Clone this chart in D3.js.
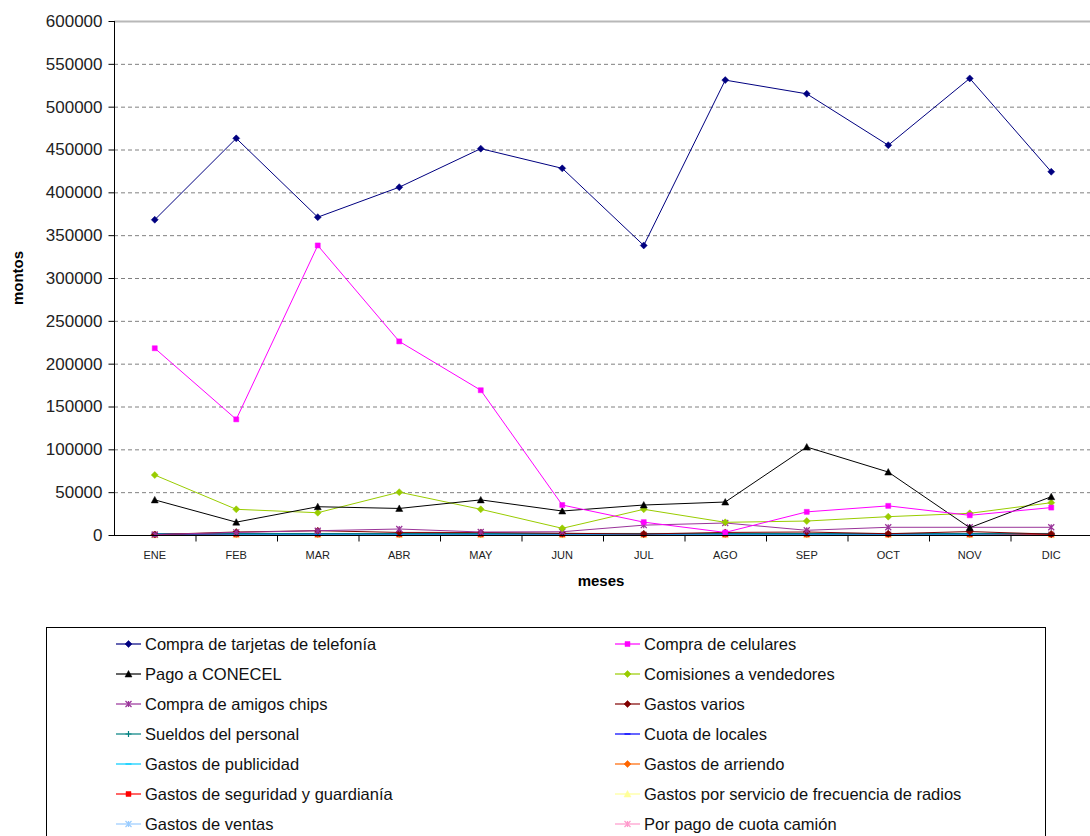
<!DOCTYPE html>
<html>
<head>
<meta charset="utf-8">
<script src="https://cdn.jsdelivr.net/npm/d3@7"></script>
<style>
  html, body { margin: 0; padding: 0; background: #fff; }
  svg { display: block; font-family: "Liberation Sans", Arial, sans-serif; }
</style>
</head>
<body>
<svg id="chart" width="1090" height="836"></svg>
<script>
// Months on the x axis
const meses = ["ENE","FEB","MAR","ABR","MAY","JUN","JUL","AGO","SEP","OCT","NOV","DIC"];
const yTicks = [0,50000,100000,150000,200000,250000,300000,350000,400000,450000,500000,550000,600000];

// Monthly amounts per expense line
const tarjetas   = [368000,463000,371000,406000,451000,428000,338000,531000,515000,455000,533000,424000];
const celulares  = [218000,135000,338000,226000,169000,35000,15000,3000,27000,34000,23000,32000];
const conecel    = [41000,15000,33000,31000,41000,28000,35000,38500,102700,73500,8500,44700];
const comisiones = [70000,30000,26000,50000,30000,7800,30000,14800,16300,21400,25300,37700];
const chips      = [500,3000,5000,7000,3500,3800,11500,14000,5500,9000,9000,9000];
const varios     = [500,3500,5000,3000,3000,2000,1200,3000,3500,1500,4000,1000];
const sueldos    = [1200,1800,1800,1800,1800,1800,1800,1800,1800,1800,1800,1800];
const locales    = [800,1500,1500,1500,1500,1500,1500,1500,1500,1500,1500,1500];
const publicidad = [1800,800,800,800,800,800,800,800,800,800,800,1800];
const arriendo   = [600,1200,1200,1200,1200,1200,1200,1200,1200,1200,1200,1200];
const seguridad  = [600,600,600,600,600,600,600,600,600,600,600,600];
const radios     = [300,300,300,300,300,300,300,300,300,300,300,300];
const ventas     = [400,400,400,400,400,400,400,400,400,400,400,400];
const camion     = [100,100,100,100,100,100,100,100,100,100,100,100];

const series = [
  { name: "Compra de tarjetas de telefonía", values: tarjetas, color: "#000080", marker: "diamond" },
  { name: "Compra de celulares", values: celulares, color: "#FF00FF", marker: "square" },
  { name: "Pago a CONECEL", values: conecel, color: "#000000", marker: "triangle" },
  { name: "Comisiones a vendedores", values: comisiones, color: "#99CC00", marker: "diamond" },
  { name: "Compra de amigos chips", values: chips, color: "#993399", marker: "star" },
  { name: "Gastos varios", values: varios, color: "#800000", marker: "diamond" },
  { name: "Sueldos del personal", values: sueldos, color: "#008080", marker: "plus" },
  { name: "Cuota de locales", values: locales, color: "#0000FF", marker: "dash" },
  { name: "Gastos de publicidad", values: publicidad, color: "#00CCFF", marker: "dash" },
  { name: "Gastos de arriendo", values: arriendo, color: "#FF6600", marker: "diamond" },
  { name: "Gastos de seguridad y guardianía", values: seguridad, color: "#FF0000", marker: "square" },
  { name: "Gastos por servicio de frecuencia de radios", values: radios, color: "#FFFF99", marker: "triangle" },
  { name: "Gastos de ventas", values: ventas, color: "#99CCFF", marker: "star" },
  { name: "Por pago de cuota camión", values: camion, color: "#FF99CC", marker: "star" }
];

const svg = d3.select("#chart");
const plotLeft = 114, plotRight = 1092, plotTop = 21, plotBottom = 535;

const xBand = d3.scaleBand().domain(meses).range([plotLeft, plotRight]);
const xc = m => xBand(m) + xBand.bandwidth() / 2;
const y = d3.scaleLinear().domain([0, 600000]).range([plotBottom, plotTop]);

// Dashed horizontal gridlines
svg.append("g")
  .selectAll("line")
  .data(yTicks.filter(v => v > 0 && v < 600000))
  .join("line")
  .attr("x1", plotLeft).attr("x2", plotRight)
  .attr("y1", d => y(d) + 0.5).attr("y2", d => y(d) + 0.5)
  .attr("stroke", "#808080").attr("stroke-width", 1)
  .attr("stroke-dasharray", "4,3");

// Top border of the plot area
svg.append("line")
  .attr("x1", plotLeft).attr("x2", plotRight)
  .attr("y1", y(600000) + 0.5).attr("y2", y(600000) + 0.5)
  .attr("stroke", "#b8b8b8").attr("stroke-width", 2);

// Marker shapes
function markerPath(type) {
  switch (type) {
    case "diamond": return "M0,-3.5L3.5,0L0,3.5L-3.5,0Z";
    case "square": return "M-2.5,-2.5H2.5V2.5H-2.5Z";
    case "triangle": return "M0,-3.5L3.5,3L-3.5,3Z";
    case "plus": return "M-3,0H3M0,-3V3";
    case "dash": return "M-3,0H3";
    case "star": return "M-3,-3L3,3M-3,3L3,-3M0,-3V3";
  }
}
const strokeOnly = t => t === "plus" || t === "dash" || t === "star";

const line = d3.line().x((d, i) => xc(meses[i])).y(d => y(d));

// Draw series from the last (smallest) to the first so main lines stay on top
const gSeries = svg.append("g");
series.slice().reverse().forEach(s => {
  const g = gSeries.append("g");
  g.append("path")
    .attr("d", line(s.values))
    .attr("fill", "none")
    .attr("stroke", s.color)
    .attr("stroke-width", 1);
  g.selectAll("path.mk")
    .data(s.values)
    .join("path")
    .attr("class", "mk")
    .attr("transform", (d, i) => `translate(${xc(meses[i])},${y(d)})`)
    .attr("d", markerPath(s.marker))
    .attr("fill", strokeOnly(s.marker) ? "none" : s.color)
    .attr("stroke", s.color)
    .attr("stroke-width", strokeOnly(s.marker) ? 1.2 : 0.5);
});

// Y axis
const yAxis = svg.append("g")
  .attr("transform", `translate(${plotLeft + 0.5},0)`)
  .call(d3.axisLeft(y).tickValues(yTicks).tickSize(6).tickPadding(6).tickFormat(d3.format("d")));
yAxis.select(".domain").attr("stroke", "#000").attr("d", `M0,${plotTop}V${plotBottom}`);
yAxis.selectAll(".tick line").attr("stroke", "#000");
yAxis.selectAll(".tick text")
  .attr("font-size", 17).attr("fill", "#222")
  .attr("font-family", "'Liberation Sans', Arial, sans-serif");

// X axis with ticks at category boundaries
const xAxis = svg.append("g").attr("transform", `translate(0,${plotBottom + 0.5})`);
xAxis.append("line").attr("x1", plotLeft).attr("x2", plotRight).attr("stroke", "#000");
xAxis.selectAll("line.tk")
  .data(meses.slice(1))
  .join("line")
  .attr("class", "tk")
  .attr("x1", d => xBand(d) + 0.5).attr("x2", d => xBand(d) + 0.5)
  .attr("y1", 0).attr("y2", 6)
  .attr("stroke", "#000");
xAxis.selectAll("text")
  .data(meses)
  .join("text")
  .attr("x", d => xc(d))
  .attr("y", 23)
  .attr("text-anchor", "middle")
  .attr("font-size", 11)
  .attr("fill", "#222")
  .text(d => d);

// Axis titles
svg.append("text")
  .attr("x", 601).attr("y", 586)
  .attr("text-anchor", "middle")
  .attr("font-size", 15).attr("font-weight", "bold")
  .text("meses");
svg.append("text")
  .attr("transform", "translate(23,278) rotate(-90)")
  .attr("text-anchor", "middle")
  .attr("font-size", 15).attr("font-weight", "bold")
  .text("montos");

// Legend
const legend = svg.append("g");
legend.append("rect")
  .attr("x", 46.5).attr("y", 627.5)
  .attr("width", 999).attr("height", 240)
  .attr("fill", "#fff").attr("stroke", "#000");

const cols = [116, 615];
series.forEach((s, i) => {
  const cx = cols[i % 2];
  const cy = 644 + 30 * Math.floor(i / 2);
  const item = legend.append("g").attr("transform", `translate(${cx},${cy})`);
  item.append("line").attr("x1", 0).attr("x2", 25).attr("stroke", s.color).attr("stroke-width", 1.2);
  item.append("path")
    .attr("transform", "translate(12.5,0)")
    .attr("d", markerPath(s.marker))
    .attr("fill", strokeOnly(s.marker) ? "none" : s.color)
    .attr("stroke", s.color)
    .attr("stroke-width", strokeOnly(s.marker) ? 1.2 : 0.5);
  item.append("text")
    .attr("x", 29).attr("y", 6)
    .attr("font-size", 16.5)
    .attr("fill", "#111")
    .text(s.name);
});
</script>
</body>
</html>
